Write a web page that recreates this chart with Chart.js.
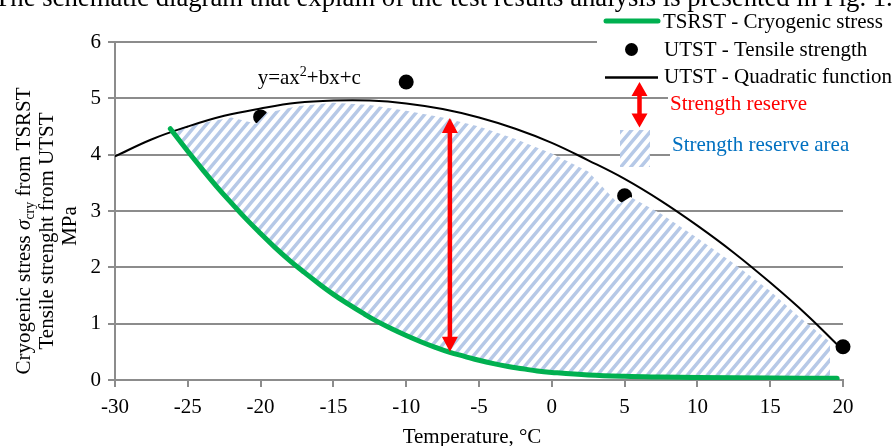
<!DOCTYPE html>
<html><head><meta charset="utf-8">
<script src="https://cdn.jsdelivr.net/npm/chart.js@4.4.0/dist/chart.umd.min.js"></script>
<style>html,body{margin:0;padding:0;background:#fff;overflow:hidden}#wrap{width:896px;height:446px;position:relative}</style>
</head><body><div id="wrap"><canvas id="c" width="896" height="446"></canvas></div>
<script>
// ---- data ----
const xTickValues = [-30, -25, -20, -15, -10, -5, 0, 5, 10, 15, 20];
const yTickValues = [0, 1, 2, 3, 4, 5, 6];

const tsrstTemp   = [-26.2, -25, -24, -23, -22, -21, -20, -19, -18, -17, -16, -15, -14, -13, -12, -11, -10, -9, -8, -7, -6, -5, -4, -3, -2, -1, 0, 2.5, 5, 7.5, 10, 15, 19.6];
const tsrstStress = [4.46, 4.06, 3.74, 3.43, 3.14, 2.86, 2.60, 2.35, 2.12, 1.91, 1.71, 1.52, 1.35, 1.19, 1.04, 0.91, 0.79, 0.68, 0.58, 0.49, 0.42, 0.35, 0.29, 0.24, 0.20, 0.16, 0.135, 0.09, 0.065, 0.052, 0.043, 0.035, 0.03];

const utstTemp     = [-20, -10, 5, 20];
const utstStrength = [4.67, 5.29, 3.27, 0.59];

const quadTemp     = [-30, -27.5, -25, -22.5, -20, -17.5, -15, -12.5, -10, -7.5, -5, -2.5, 0, 2.5, 5, 7.5, 10, 12.5, 15, 17.5, 19.6];
const quadStrength = [3.97, 4.27, 4.50, 4.69, 4.82, 4.92, 4.96, 4.96, 4.91, 4.81, 4.66, 4.46, 4.21, 3.90, 3.57, 3.18, 2.74, 2.26, 1.73, 1.16, 0.63];

const reserveTopTemp  = [-26.2, -24, -22, -20.3, -19.6, -17.5, -15, -12.5, -10, -7.5, -5, -2.5, 0, 2.5, 4.6, 5.4, 7.5, 10, 12.5, 15, 17, 19.1];
const reserveTopValue = [4.44, 4.56, 4.66, 4.55, 4.74, 4.86, 4.92, 4.88, 4.78, 4.66, 4.50, 4.28, 4.02, 3.70, 3.12, 3.25, 2.95, 2.52, 2.07, 1.58, 1.12, 0.68];

const reserveArrowTemp  = -7.0;
const reserveArrowRange = [0.5, 4.65];

const eqLabel = ['y=ax', '2', '+bx+c'];
const eqLabelAt = [-20.2, 5.26];

const legendLabels = ['TSRST - Cryogenic stress', 'UTST - Tensile strength', 'UTST - Quadratic function', 'Strength reserve', 'Strength reserve area'];
const yTitleLines = [['Cryogenic stress ', 'σ', 'cry', ' from TSRST'], 'Tensile strenght from UTST', 'MPa'];
const xTitle = 'Temperature, °C';
const caption = 'The schematic diagram that explain of the test results analysis is presented in Fig. 1.';

// ---- helpers ----
const SERIF = '"Liberation Serif", "Times New Roman", serif';
const GRID = '#8c8c8c';
const zip = (a, b) => a.map((v, i) => ({x: v, y: b[i]}));

let hatch = null;
function hatchPattern(ctx) {
  if (hatch) return hatch;
  const W = 10, H = 12;
  const c = document.createElement('canvas');
  c.width = W; c.height = H;
  const g = c.getContext('2d');
  g.fillStyle = '#ffffff'; g.fillRect(0, 0, W, H);
  g.strokeStyle = '#b6c9e7'; g.lineWidth = 3.4;
  g.beginPath();
  for (let k = -1; k <= 1; k++) {
    g.moveTo(k * W - W, 2 * H); g.lineTo(k * W + 2 * W, -H);
  }
  g.stroke();
  hatch = ctx.createPattern(c, 'repeat');
  return hatch;
}

function doubleArrow(ctx, x, yTop, yBot, headW, headL, shaftW) {
  ctx.save();
  ctx.fillStyle = '#ff0000';
  ctx.fillRect(x - shaftW / 2, yTop + headL - 1, shaftW, yBot - yTop - 2 * headL + 2);
  ctx.beginPath();
  ctx.moveTo(x, yTop); ctx.lineTo(x + headW / 2, yTop + headL); ctx.lineTo(x - headW / 2, yTop + headL); ctx.closePath();
  ctx.moveTo(x, yBot); ctx.lineTo(x + headW / 2, yBot - headL); ctx.lineTo(x - headW / 2, yBot - headL); ctx.closePath();
  ctx.fill();
  ctx.restore();
}

const overlay = {
  id: 'overlay',
  afterDatasetDraw(chart, args) {
    if (args.index !== 2) return;
    const ctx = chart.ctx, area = chart.chartArea;
    const xs = chart.scales.x, ys = chart.scales.y;
    const green = chart.getDatasetMeta(0).dataset;
    green.updateControlPoints(area, 'x');
    const rightX = xs.getPixelForValue(reserveTopTemp[reserveTopTemp.length - 1]);
    ctx.save();
    ctx.beginPath();
    ctx.rect(area.left, area.top - 20, rightX - area.left, area.bottom - area.top + 20);
    ctx.clip();
    ctx.beginPath();
    green.path(ctx);
    for (let i = reserveTopTemp.length - 1; i >= 0; i--) {
      ctx.lineTo(xs.getPixelForValue(reserveTopTemp[i]), ys.getPixelForValue(reserveTopValue[i]));
    }
    ctx.closePath();
    ctx.fillStyle = hatchPattern(ctx);
    ctx.fill();
    ctx.restore();
  },
  afterDatasetsDraw(chart) {
    const ctx = chart.ctx;
    const xs = chart.scales.x, ys = chart.scales.y;
    doubleArrow(ctx, xs.getPixelForValue(reserveArrowTemp), ys.getPixelForValue(reserveArrowRange[1]),
      ys.getPixelForValue(reserveArrowRange[0]), 16, 15, 4.5);
    ctx.save();
    ctx.fillStyle = '#000';
    ctx.textBaseline = 'alphabetic';
    let ex = xs.getPixelForValue(eqLabelAt[0]);
    const ey = ys.getPixelForValue(eqLabelAt[1]);
    ctx.font = '21px ' + SERIF;
    ctx.fillText(eqLabel[0], ex, ey); ex += ctx.measureText(eqLabel[0]).width;
    ctx.font = '14px ' + SERIF;
    ctx.fillText(eqLabel[1], ex, ey - 8); ex += ctx.measureText(eqLabel[1]).width;
    ctx.font = '21px ' + SERIF;
    ctx.fillText(eqLabel[2], ex, ey);
    ctx.restore();
  },
  afterDraw(chart) {
    const ctx = chart.ctx;
    ctx.save();
    ctx.fillStyle = '#fff';
    ctx.fillRect(597, 0, 299, 90);
    ctx.fillRect(668, 88, 228, 30);
    ctx.fillRect(670, 131, 226, 31);
    // legend
    ctx.strokeStyle = '#00b050'; ctx.lineWidth = 5; ctx.lineCap = 'round';
    ctx.beginPath(); ctx.moveTo(606, 21); ctx.lineTo(658, 21); ctx.stroke();
    ctx.fillStyle = '#000';
    ctx.beginPath(); ctx.arc(631.5, 49.5, 6.5, 0, Math.PI * 2); ctx.fill();
    ctx.strokeStyle = '#000'; ctx.lineWidth = 2.5; ctx.lineCap = 'butt';
    ctx.beginPath(); ctx.moveTo(605, 77.5); ctx.lineTo(658, 77.5); ctx.stroke();
    doubleArrow(ctx, 639.5, 82, 127.5, 16, 14, 4.5);
    ctx.fillStyle = hatchPattern(ctx);
    ctx.fillRect(620, 130, 30, 37);
    ctx.font = '21px ' + SERIF;
    ctx.textBaseline = 'alphabetic'; ctx.textAlign = 'left';
    ctx.fillStyle = '#000';
    ctx.fillText(legendLabels[0], 663, 28);
    ctx.fillText(legendLabels[1], 664, 55.5);
    ctx.fillText(legendLabels[2], 664, 83);
    ctx.fillStyle = '#ff0000';
    ctx.fillText(legendLabels[3], 670, 110);
    ctx.fillStyle = '#0070c0';
    ctx.fillText(legendLabels[4], 672, 151);
    // x title
    ctx.fillStyle = '#000';
    ctx.textAlign = 'center';
    ctx.fillText(xTitle, 472, 443);
    // y title
    ctx.textAlign = 'left';
    ctx.save();
    ctx.translate(30, 231); ctx.rotate(-Math.PI / 2);
    const p = yTitleLines[0];
    const fonts = ['21px ' + SERIF, 'italic 21px ' + SERIF, '14px ' + SERIF, '21px ' + SERIF];
    const dys = [0, 0, 4, 0];
    let total = 0;
    p.forEach((t, i) => { ctx.font = fonts[i]; total += ctx.measureText(t).width; });
    let px = -total / 2;
    p.forEach((t, i) => { ctx.font = fonts[i]; ctx.fillText(t, px, dys[i]); px += ctx.measureText(t).width; });
    ctx.restore();
    ctx.save();
    ctx.font = '21px ' + SERIF; ctx.textAlign = 'center';
    ctx.translate(53, 231); ctx.rotate(-Math.PI / 2);
    ctx.fillText(yTitleLines[1], 0, 0);
    ctx.restore();
    ctx.save();
    ctx.font = '21px ' + SERIF; ctx.textAlign = 'center';
    ctx.translate(76, 226); ctx.rotate(-Math.PI / 2);
    ctx.fillText(yTitleLines[2], 0, 0);
    ctx.restore();
    // caption cut off at the top
    ctx.textAlign = 'left';
    ctx.font = '24px ' + SERIF;
    const w = ctx.measureText(caption).width;
    const fs = 24 * 899 / w;
    ctx.font = fs.toFixed(2) + 'px ' + SERIF;
    ctx.fillText(caption, -6, 6);
    ctx.restore();
  }
};

new Chart(document.getElementById('c'), {
  type: 'line',
  data: {
    datasets: [
      {
        label: legendLabels[0], data: zip(tsrstTemp, tsrstStress),
        borderColor: '#00b050', borderWidth: 5, borderCapStyle: 'round', borderJoinStyle: 'round',
        pointRadius: 0, tension: 0.4, fill: false, order: 1
      },
      {
        label: legendLabels[2], data: zip(quadTemp, quadStrength),
        borderColor: '#000', borderWidth: 2, pointRadius: 0, tension: 0.4, fill: false, order: 2
      },
      {
        label: legendLabels[1], data: zip(utstTemp, utstStrength),
        showLine: false, pointRadius: 7.5, pointBackgroundColor: '#000', pointBorderWidth: 0, clip: false, order: 3
      }
    ]
  },
  options: {
    responsive: false, animation: false, events: [],
    layout: {padding: {top: 42, right: 53, left: 0, bottom: 0}},
    plugins: {legend: {display: false}, tooltip: {enabled: false}},
    scales: {
      x: {
        type: 'linear', min: -30, max: 20,
        afterFit(s) { s.height = 66; },
        afterBuildTicks(s) { s.ticks = xTickValues.map(v => ({value: v})); },
        ticks: {font: {family: SERIF, size: 21}, color: '#000', padding: 8, maxRotation: 0, autoSkip: false},
        grid: {drawOnChartArea: false, drawTicks: true, tickLength: 7, color: GRID, lineWidth: 2},
        border: {color: GRID, width: 2}
      },
      y: {
        type: 'linear', min: 0, max: 6,
        afterFit(s) { s.width = 115; },
        afterBuildTicks(s) { s.ticks = yTickValues.map(v => ({value: v})); },
        ticks: {font: {family: SERIF, size: 21}, color: '#000', padding: 7},
        grid: {drawTicks: true, tickLength: 7, color: GRID, lineWidth: 2},
        border: {color: GRID, width: 2}
      }
    }
  },
  plugins: [overlay]
});
</script>
</body></html>
